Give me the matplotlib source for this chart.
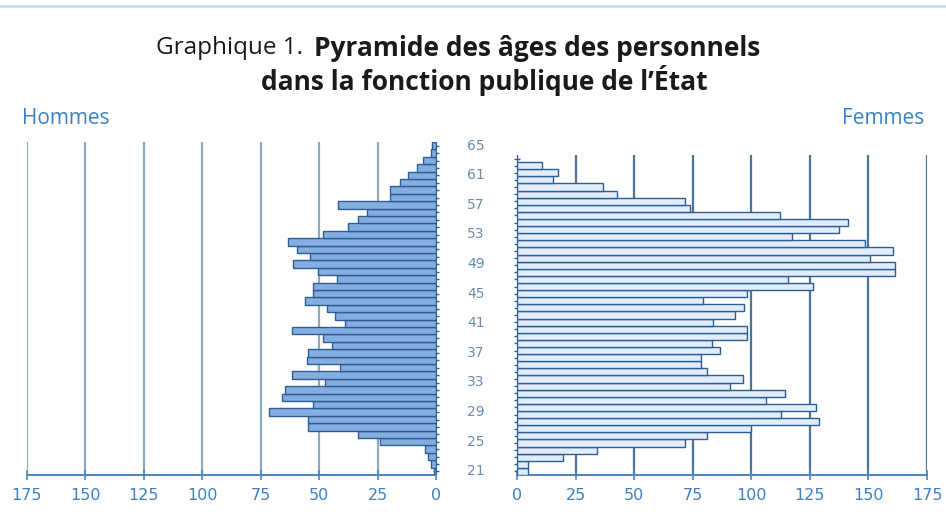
import matplotlib
matplotlib.use("Agg")
import matplotlib.pyplot as plt
import numpy as np

# Ages 21..65, one bar per year
ages = list(range(21, 66))

# Men (Hommes), from age 21 up to 65
hommes = [0.8, 2.2, 3.3, 4.7, 24, 33.2, 54.6, 54.6, 71.5, 52.5,
          66, 64.6, 47.5, 61.7, 41.1, 55.3, 54.6, 44.6, 48.2, 61.7,
          38.9, 43.2, 46.8, 56, 52.8, 52.5, 42.5, 50.4, 61, 53.9,
          59.6, 63.2, 48.2, 37.5, 33.2, 29.7, 41.8, 19.7, 19.7, 15.4,
          11.8, 8.3, 5.4, 2.2, 1.8]

# Women (Femmes), from age 21 up to 65
femmes = [4.8, 4.8, 19.8, 34, 71.7, 81, 100, 129, 112.5, 127.6,
          106.3, 114.4, 90.9, 96.6, 81, 78.4, 78.4, 86.6, 83.1, 98,
          98, 83.8, 93, 96.9, 79.3, 98, 126.5, 115.8, 161.3, 161.3,
          150.7, 160.6, 148.5, 117.2, 137.6, 141.4, 112.2, 73.8, 71.7, 42.8,
          36.8, 15.5, 17.6, 10.5, 0]

age_labels = list(range(21, 66, 4))
x_ticks = [0, 25, 50, 75, 100, 125, 150, 175]

W, H = 946, 514
fig = plt.figure(figsize=(W / 100, H / 100), dpi=100)

blue_txt = "#3a80c2"
grid_l = "#8ea9bd"
grid_r = "#4b7596"
edge = "#2d5e95"
tick_font = ["Liberation Sans Narrow", "DejaVu Sans"]


def px(x0, y0, x1, y1):
    return [x0 / W, 1 - y1 / H, (x1 - x0) / W, (y1 - y0) / H]


ax_l = fig.add_axes(px(27, 142, 436, 475))
ax_r = fig.add_axes(px(517, 155, 927, 475))

ax_l.barh(ages, hommes, height=1.0, color="#85addf", edgecolor=edge,
          linewidth=1.0, zorder=3)
ax_r.barh(ages, femmes, height=1.0, color="#e2edf9", edgecolor=edge,
          linewidth=1.0, zorder=3)

ax_l.set_xlim(175, 0)
ax_r.set_xlim(0, 175)
for ax, gcol in ((ax_l, grid_l), (ax_r, grid_r)):
    ax.set_ylim(20.5, 65.5)
    for v in x_ticks[1:]:
        ax.axvline(v, color=gcol, lw=1.6, zorder=1)
    for s in ax.spines.values():
        s.set_visible(False)
    ax.spines["bottom"].set_visible(True)
    ax.spines["bottom"].set_color("#4a86bd")
    ax.spines["bottom"].set_linewidth(1.4)
    ax.set_xticks(x_ticks)
    ax.set_xticklabels([str(v) for v in x_ticks], fontsize=11.5,
                       color=blue_txt, family=tick_font)
    ax.tick_params(axis="x", direction="inout", length=7, width=1.2,
                   color="#4a86bd", pad=6)
    ax.set_yticks([])
    ax.set_facecolor("none")

# zero line with one small tick per year
ax_l.spines["right"].set_visible(True)
ax_l.spines["right"].set_color(edge)
ax_l.yaxis.tick_right()
ax_r.spines["left"].set_visible(True)
ax_r.spines["left"].set_color(edge)
for ax in (ax_l, ax_r):
    ax.set_yticks(ages, minor=True)
    ax.tick_params(axis="y", which="minor", direction="inout", length=5,
                   width=1.0, color=edge)

# age labels in the middle
for a in age_labels:
    ax_l.text(1.098, a, str(a), transform=ax_l.get_yaxis_transform(),
              ha="center", va="center", fontsize=10, color="#6a8caa",
              family=tick_font)

side_font = ["Open Sans", "DejaVu Sans"]
fig.text(22 / W, 1 - 118 / H, "Hommes", fontsize=15, color=blue_txt,
         ha="left", va="center", family=side_font)
fig.text(924 / W, 1 - 118 / H, "Femmes", fontsize=15, color=blue_txt,
         ha="right", va="center", family=side_font)

title_font = ["Open Sans", "DejaVu Sans"]
fig.text(303 / W, 1 - 48 / H, "Graphique 1.", fontsize=17.5, color="#1a1a1a",
         ha="right", va="center", family=title_font)
fig.text(314 / W, 1 - 48 / H, "Pyramide des âges des personnels", fontsize=19,
         color="#1a1a1a", ha="left", va="center", fontweight="bold",
         family=title_font)
fig.text(484 / W, 1 - 80 / H, "dans la fonction publique de l’État",
         fontsize=19, color="#1a1a1a", ha="center", va="center",
         fontweight="bold", family=title_font)

# thin frame line along the top edge
fig.add_artist(plt.Line2D([0, 1], [1 - 6 / H, 1 - 6 / H], color="#bfe0ef",
                          lw=2, transform=fig.transFigure))

fig.savefig("out.png", dpi=100)
